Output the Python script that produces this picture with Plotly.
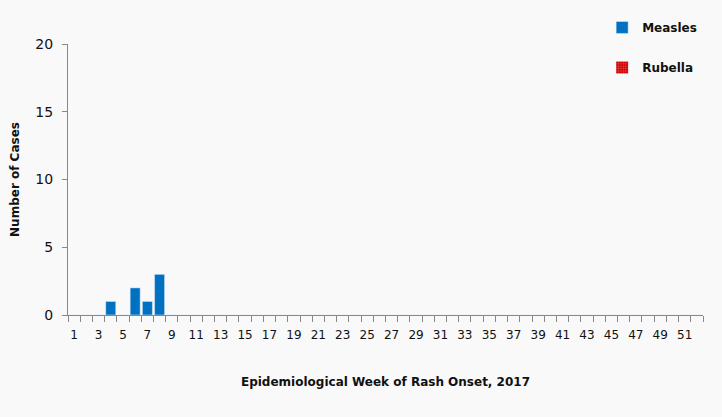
import plotly.graph_objects as go

weeks = list(range(1, 53))
measles = [0, 0, 0, 1, 0, 2, 1, 3] + [0] * 44
rubella = [0] * 52
tick_weeks = list(range(1, 52, 2))

fig = go.Figure()
fig.add_trace(go.Bar(x=weeks, y=measles, name="Measles", marker_color="#0070C0",
                     legendgroup="a"))
fig.add_trace(go.Bar(x=weeks, y=rubella, name="Rubella", legendgroup="b",
                     marker=dict(color="#D00000", line=dict(width=0),
                                 pattern=dict(shape="+", fgcolor="#ffb0b0", bgcolor="#D00000",
                                              size=3, solidity=0.3))))

fig.update_layout(
    width=722, height=417,
    margin=dict(l=68, r=19, t=44, b=102, autoexpand=False),
    paper_bgcolor="#f9f9f9", plot_bgcolor="#f9f9f9",
    barmode="overlay", bargap=0.18,
    font=dict(family="DejaVu Sans", size=12, color="#111"),
    showlegend=True,
    legend=dict(xref="container", yref="container", x=0.834, y=0.969,
                xanchor="left", yanchor="top", traceorder="grouped",
                tracegroupgap=21, font=dict(size=12, color="#111", weight="bold"),
                itemwidth=30, bgcolor="rgba(0,0,0,0)"),
    xaxis=dict(range=[0.5, 52.5], tickmode="array", tickvals=tick_weeks,
               ticktext=[str(w) for w in tick_weeks], ticks="", showgrid=False,
               showline=True, linecolor="#888", linewidth=1, zeroline=False,
               automargin=False, tickfont=dict(size=12, color="#111"),
               ticklabelstandoff=9,
               minor=dict(tickmode="array", tickvals=[w - 0.5 for w in range(1, 54)],
                          ticks="outside", ticklen=6, tickcolor="#888", showgrid=False),
               title=dict(text="<b>Epidemiological Week of Rash Onset, 2017</b>",
                          font=dict(size=12, color="#111"), standoff=36)),
    yaxis=dict(range=[0, 20], tickvals=[0, 5, 10, 15, 20], ticks="outside", ticklen=5,
               tickcolor="#888", showgrid=False, showline=True, linecolor="#888",
               linewidth=1, zeroline=False, automargin=False,
               tickfont=dict(size=14, color="#111"), ticklabelstandoff=6,
               title=dict(text="<b>Number of Cases</b>", font=dict(size=12, color="#111"),
                          standoff=13)),
)

fig.write_html("out.html", config={"displayModeBar": False},
               post_script="document.body.style.margin='0px';")
